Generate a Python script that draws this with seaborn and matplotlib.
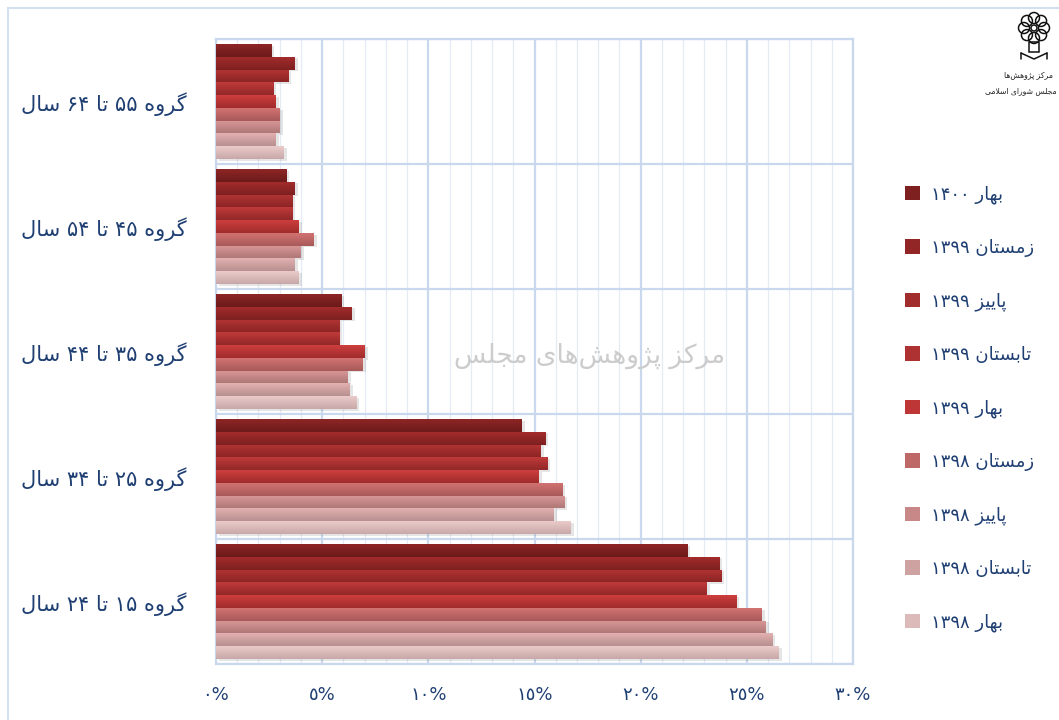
import re
import matplotlib
matplotlib.use("Agg")
import matplotlib.pyplot as plt
import matplotlib.patheffects as pe
from matplotlib.colors import LinearSegmentedColormap
from matplotlib.patches import Rectangle, Circle
from matplotlib.ticker import MultipleLocator
import numpy as np
import pandas as pd
import seaborn as sns

# --- data (percent) ---
groups = ["گروه ۵۵ تا ۶۴ سال", "گروه ۴۵ تا ۵۴ سال", "گروه ۳۵ تا ۴۴ سال",
          "گروه ۲۵ تا ۳۴ سال", "گروه ۱۵ تا ۲۴ سال"]
seasons = ["بهار ۱۴۰۰", "زمستان ۱۳۹۹", "پاییز ۱۳۹۹", "تابستان ۱۳۹۹", "بهار ۱۳۹۹",
           "زمستان ۱۳۹۸", "پاییز ۱۳۹۸", "تابستان ۱۳۹۸", "بهار ۱۳۹۸"]
g55_64 = [2.6, 3.7, 3.4, 2.7, 2.8, 3.0, 3.0, 2.8, 3.2]
g45_54 = [3.3, 3.7, 3.6, 3.6, 3.9, 4.6, 4.0, 3.7, 3.9]
g35_44 = [5.9, 6.4, 5.8, 5.8, 7.0, 6.9, 6.2, 6.3, 6.6]
g25_34 = [14.4, 15.5, 15.3, 15.6, 15.2, 16.3, 16.4, 15.9, 16.7]
g15_24 = [22.2, 23.7, 23.8, 23.1, 24.5, 25.7, 25.9, 26.2, 26.5]
x_ticks = [0, 5, 10, 15, 20, 25, 30]
x_tick_labels = ["٠%", "٥%", "١٠%", "١٥%", "٢٠%", "٢٥%", "٣٠%"]

# bar gradient colours (top, bottom) per season
tops = ["#8E2626", "#A22C2C", "#B43434", "#C03A3A", "#CE3E3E",
        "#D27272", "#DA9898", "#E3B0B0", "#EBCACA"]
bottoms = ["#6C1A1A", "#7E2020", "#8C2525", "#922828", "#A02C2C",
           "#A85959", "#B07878", "#B89090", "#C8A8A8"]
mids = ["#7F2020", "#922626", "#A22D2D", "#AE3232", "#BE3636",
        "#BE6868", "#C88888", "#CFA2A2", "#DCBABA"]

TEXT = "#1F3F73"
GRID = "#C9D8EC"
GRID_MINOR = "#E4EBF5"

# --- minimal Persian shaping (matplotlib draws no joined forms itself) ---
FORMS = {
    "ا": ("\uFE8D", "\uFE8E", None, None),
    "ب": ("\uFE8F", "\uFE90", "\uFE91", "\uFE92"),
    "پ": ("\uFB56", "\uFB57", "\uFB58", "\uFB59"),
    "ت": ("\uFE95", "\uFE96", "\uFE97", "\uFE98"),
    "ج": ("\uFE9D", "\uFE9E", "\uFE9F", "\uFEA0"),
    "ر": ("\uFEAD", "\uFEAE", None, None),
    "ز": ("\uFEAF", "\uFEB0", None, None),
    "ژ": ("\uFB8A", "\uFB8B", None, None),
    "س": ("\uFEB1", "\uFEB2", "\uFEB3", "\uFEB4"),
    "ش": ("\uFEB5", "\uFEB6", "\uFEB7", "\uFEB8"),
    "ک": ("\uFB8E", "\uFB8F", "\uFB90", "\uFB91"),
    "گ": ("\uFB92", "\uFB93", "\uFB94", "\uFB95"),
    "ل": ("\uFEDD", "\uFEDE", "\uFEDF", "\uFEE0"),
    "م": ("\uFEE1", "\uFEE2", "\uFEE3", "\uFEE4"),
    "ن": ("\uFEE5", "\uFEE6", "\uFEE7", "\uFEE8"),
    "ه": ("\uFEE9", "\uFEEA", "\uFEEB", "\uFEEC"),
    "و": ("\uFEED", "\uFEEE", None, None),
    "ی": ("\uFBFC", "\uFBFD", "\uFBFE", "\uFBFF"),
}


def joins_next(c):
    return c in FORMS and FORMS[c][2] is not None


def shape(s):
    out = []
    i = 0
    n = len(s)
    while i < n:
        c = s[i]
        if c not in FORMS:
            if c != "\u200c":
                out.append(c)
            i += 1
            continue
        p = i > 0 and joins_next(s[i - 1])
        nxt = s[i + 1] if i + 1 < n else ""
        if c == "ل" and nxt == "ا":
            out.append("\uFEFC" if p else "\uFEFB")
            i += 2
            continue
        q = joins_next(c) and nxt in FORMS
        iso, fin, ini, med = FORMS[c]
        out.append(med if p and q else fin if p else ini if q else iso)
        i += 1
    return "".join(out)


def visual(s):
    r = shape(s)[::-1]
    return re.sub(r"[0-9\u06F0-\u06F9\u0660-\u0669]+", lambda m: m.group(0)[::-1], r)


# --- long table for seaborn ---
values = [g55_64, g45_54, g35_44, g25_34, g15_24]
rows = []
for g, vals in zip(groups, values):
    for s, v in zip(seasons, vals):
        rows.append({"group": g, "season": s, "value": v})
df = pd.DataFrame(rows)

sns.set_style("white")
plt.rcParams["font.family"] = ["DejaVu Sans"]

fig = plt.figure(figsize=(10.59, 7.2), dpi=100)
ax = fig.add_axes([216 / 1059, 1 - 664 / 720, (853 - 216) / 1059, (664 - 39) / 720])

sns.barplot(data=df, x="value", y="group", hue="season", order=groups,
            hue_order=seasons, palette=mids, orient="h", width=0.92, gap=0,
            saturation=1, ax=ax, zorder=3, linewidth=0)

# gradient + soft drop shadow on every bar
grad = np.linspace(0, 1, 32).reshape(-1, 1)
for k, cont in enumerate(ax.containers):
    cmap = LinearSegmentedColormap.from_list("g%d" % k, [tops[k], bottoms[k]])
    for bar in cont:
        bar.set_path_effects([pe.SimplePatchShadow(offset=(2.2, -1.2), shadow_rgbFace="#8a8a8a", alpha=0.22),
                              pe.Normal()])
        x0, y0, w, h = bar.get_x(), bar.get_y(), bar.get_width(), bar.get_height()
        im = ax.imshow(grad, cmap=cmap, extent=(x0, x0 + w, y0 + h, y0), origin="upper",
                       aspect="auto", zorder=3.5, interpolation="bilinear")
        im.set_clip_path(bar)

ax.set_xlim(0, 30)
ax.set_ylim(4.5, -0.5)

# grid
ax.xaxis.set_major_locator(MultipleLocator(5))
ax.xaxis.set_minor_locator(MultipleLocator(1))
ax.set_yticks(np.arange(-0.5, 5, 1), minor=True)
ax.xaxis.grid(True, which="major", color=GRID, lw=1.6, zorder=1)
ax.xaxis.grid(True, which="minor", color=GRID_MINOR, lw=0.9, zorder=1)
ax.yaxis.grid(True, which="minor", color=GRID, lw=1.6, zorder=1)
ax.yaxis.grid(False, which="major")
ax.set_axisbelow(True)
for sp in ax.spines.values():
    sp.set_visible(True)
    sp.set_color(GRID)
    sp.set_linewidth(1.6)

ax.set_xticks(x_ticks)
ax.set_xticklabels(x_tick_labels, color=TEXT, fontsize=13)
ax.set_yticks(range(len(groups)))
ax.set_yticklabels([visual(g) for g in groups], color=TEXT, fontsize=15)
ax.tick_params(axis="both", which="both", length=0)
ax.tick_params(axis="x", pad=16)
ax.tick_params(axis="y", pad=21)
ax.set_xlabel("")
ax.set_ylabel("")

# legend
ax.get_legend().remove()
handles = [Rectangle((0, 0), 1, 1, fc=mids[i], ec="none") for i in range(len(seasons))]
fig.legend(handles, [visual(s) for s in seasons], loc="upper left",
           bbox_to_anchor=(905 / 1059, 1 - 185 / 720), frameon=False, fontsize=13,
           labelcolor=TEXT, labelspacing=1.95, handlelength=0.85, handleheight=0.85,
           handletextpad=0.6, borderpad=0, borderaxespad=0)

# watermark
ax.text(590 / 1059, 1 - 356 / 720, visual("مرکز پژوهش‌های مجلس"), transform=fig.transFigure,
        ha="center", va="center", fontsize=19, color="#CCCCCC", zorder=2)

# logo: rough ornament + name
lax = fig.add_axes([1004 / 1059, 1 - 64 / 720, 56 / 1059, 56 / 720])
lax.set_xlim(0, 56)
lax.set_ylim(56, 0)
lax.set_aspect("equal")
lax.axis("off")
for a in np.linspace(0, 2 * np.pi, 9)[:-1]:
    lax.add_patch(Circle((30 + 10 * np.cos(a), 20 + 10 * np.sin(a)), 5.5, fill=False, ec="#111111", lw=1.1))
lax.add_patch(Circle((30, 20), 3, fill=False, ec="#111111", lw=1.1))
lax.add_patch(Rectangle((25, 34), 10, 10, fill=False, ec="#111111", lw=1.1))
lax.plot([17, 30, 43], [45, 51, 45], color="#111111", lw=1.1)
lax.plot([17, 17], [45, 51], color="#111111", lw=1.1)
lax.plot([43, 43], [45, 51], color="#111111", lw=1.1)

fig.text(1028 / 1059, 1 - 75 / 720, visual("مرکز پژوهش‌ها"), ha="center", va="center",
         fontsize=5.5, color="#222222")
fig.text(1021 / 1059, 1 - 91 / 720, visual("مجلس شورای اسلامی"), ha="center", va="center",
         fontsize=5.5, color="#222222")

# outer frame
fig.patches.append(Rectangle((8 / 1059, -0.01), 1.1, 1 - 8 / 720 + 0.01, transform=fig.transFigure,
                             fill=False, ec="#D3E0F0", lw=1.5))

fig.savefig("out.png", dpi=100, facecolor="white")
